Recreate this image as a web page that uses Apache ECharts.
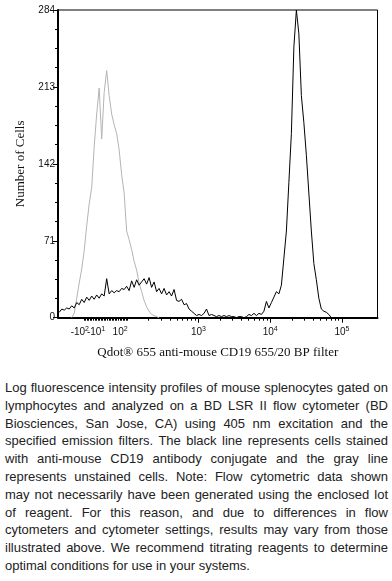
<!DOCTYPE html>
<html>
<head>
<meta charset="utf-8">
<script src="https://cdn.jsdelivr.net/npm/echarts@6/dist/echarts.min.js"></script>
<style>
  html, body { margin: 0; padding: 0; background: #fff; }
  #chart { position: absolute; left: 0; top: 0; width: 392px; height: 372px; }
  #caption { position: absolute; left: 5px; top: 379px; width: 383px;
    font-family: "Liberation Sans", Arial, sans-serif; font-size: 13px; line-height: 17.8px; color: #222; }
  #caption div { text-align: justify; text-align-last: justify; white-space: nowrap; overflow: visible; }
  #caption div.last { text-align-last: left; }
</style>
</head>
<body>
<div id="chart"></div>
<div id="caption"></div>
<script>
// ---- data (channel scale 0..1024, 128 bins of 8 channels) ----
const binWidth = 8;
const stainedCounts = [
  5, 8, 7, 9, 8, 11, 9, 14, 12, 17,
  14, 19, 16, 20, 17, 21, 18, 22, 20, 36,
  22, 25, 23, 25, 24, 27, 26, 29, 25, 34,
  28, 35, 30, 33, 36, 31, 37, 28, 33, 24,
  27, 22, 27, 21, 24, 20, 26, 16, 15, 17,
  12, 13, 8, 6, 4, 2, 3, 2, 4, 8,
  2, 3, 2, 1, 2, 1, 2, 1, 2, 1,
  1, 0, 1, 1, 0, 1, 3, 2, 4, 2,
  4, 3, 6, 15, 9, 14, 19, 24, 22, 30,
  55, 80, 125, 170, 250, 284, 262, 205, 180, 150,
  115, 80, 50, 35, 18, 8, 6, 5, 3, 0,
  0
];
const unstainedStartBin = 5;
const unstainedCounts = [
  0, 4, 18, 32, 45, 62, 85, 105, 120, 158,
  188, 212, 165, 208, 228, 205, 188, 178, 170, 155,
  132, 115, 80, 72, 63, 52, 44, 32, 24, 16,
  10, 6, 3, 2, 1, 0
];
const yTicks = [0, 71, 142, 213, 284];
// tick labels: three groups so the tightly packed ones near zero all stay visible
const xLabelGroups = [
  { pos: [199, 450, 680, 910], base: ['10', '10', '10', '10'], exp: ['2', '3', '4', '5'] },
  { pos: [70], base: ['-10'], exp: ['2'] },
  { pos: [122], base: ['-10'], exp: ['1'] }
];
const xMajorTicks = [450, 680, 910];
const decadeStarts = [220, 450, 680];   // 10^2, 10^3, 10^4 in channels
const decadeWidth = 230;
const linearTickRange = [83, 225];
const xTitle = 'Qdot\u00AE 655 anti-mouse CD19 655/20 BP filter';
const yTitle = 'Number of Cells';
const captionLines = [
  'Log fluorescence intensity profiles of mouse splenocytes gated on',
  'lymphocytes and analyzed on a BD LSR II flow cytometer (BD',
  'Biosciences, San Jose, CA) using 405 nm excitation and the',
  'specified emission filters. The black line represents cells stained',
  'with anti-mouse CD19 antibody conjugate and the gray line',
  'represents unstained cells. Note: Flow cytometric data shown',
  'may not necessarily have been generated using the enclosed lot',
  'of reagent. For this reason, and due to differences in flow',
  'cytometers and cytometer settings, results may vary from those',
  'illustrated above. We recommend titrating reagents to determine',
  'optimal conditions for use in your systems.'
];

// ---- build ----
const stained = stainedCounts.map((c, i) => [i * binWidth + binWidth / 2, c]);
const unstained = unstainedCounts.map((c, i) => [(i + unstainedStartBin) * binWidth + binWidth / 2, c]);

const minorTicks = [];
for (let v = linearTickRange[0]; v <= linearTickRange[1]; v += 5) minorTicks.push(v);
decadeStarts.forEach(s => {
  for (let k = 2; k <= 9; k++) minorTicks.push(s + Math.log10(k) * decadeWidth);
});

const cap = document.getElementById('caption');
captionLines.forEach((t, i) => {
  const d = document.createElement('div');
  d.textContent = t;
  if (i === captionLines.length - 1) d.className = 'last';
  cap.appendChild(d);
});

const chart = echarts.init(document.getElementById('chart'), null, { renderer: 'canvas' });
const sansFont = '"Liberation Sans", Arial, sans-serif';
const serifFont = '"Liberation Serif", "Times New Roman", serif';
const richStyle = {
  n: { fontFamily: sansFont, fontSize: 10, color: '#111', lineHeight: 14 },
  s: { fontFamily: sansFont, fontSize: 7, color: '#111', lineHeight: 7, padding: [0, 0, 7, 0] }
};
function labelAxis(g, extra) {
  return Object.assign({
    type: 'value', min: 0, max: 1024, position: 'bottom',
    axisLine: { show: false },
    axisTick: { show: false },
    axisLabel: {
      show: true, customValues: g.pos, margin: 8, hideOverlap: false,
      showMinLabel: true, showMaxLabel: true,
      formatter: function (v) {
        let idx = 0, best = 1e9;
        g.pos.forEach((p, i) => { if (Math.abs(p - v) < best) { best = Math.abs(p - v); idx = i; } });
        return '{n|' + g.base[idx] + '}{s|' + g.exp[idx] + '}';
      },
      rich: richStyle
    },
    splitLine: { show: false }
  }, extra || {});
}

const xAxes = [
  labelAxis(xLabelGroups[0], {
    name: xTitle, nameLocation: 'middle', nameGap: 28,
    nameTextStyle: { fontFamily: serifFont, fontSize: 13, color: '#111' },
    axisLine: { show: true, lineStyle: { color: '#000', width: 2 } },
    axisTick: { show: true, customValues: xMajorTicks, length: 5, lineStyle: { color: '#000' } }
  }),
  labelAxis(xLabelGroups[1], {
    axisTick: { show: true, customValues: minorTicks, length: 3, lineStyle: { color: '#000' } }
  }),
  labelAxis(xLabelGroups[2])
];

chart.setOption({
  animation: false,
  backgroundColor: '#fff',
  grid: {
    left: 58, top: 10, width: 319.5, height: 307.7,
    show: true, borderColor: '#000', borderWidth: 1, backgroundColor: '#fff',
    containLabel: false, outerBoundsMode: 'none'
  },
  xAxis: xAxes,
  yAxis: {
    type: 'value', min: 0, max: 284, interval: 71,
    name: yTitle, nameLocation: 'middle', nameGap: 26, nameRotate: 90,
    nameTextStyle: { fontFamily: serifFont, fontSize: 13, color: '#111' },
    axisLine: { show: true, lineStyle: { color: '#000', width: 2 } },
    axisTick: { show: true, length: 5, lineStyle: { color: '#000' } },
    minorTick: { show: true, splitNumber: 4, length: 3, lineStyle: { color: '#000' } },
    axisLabel: { fontFamily: sansFont, fontSize: 10, color: '#111', margin: 3 },
    splitLine: { show: false }
  },
  series: [{
    type: 'line', data: unstained, symbol: 'none', xAxisIndex: 0,
    lineStyle: { color: '#b4b4b4', width: 1 }, z: 2
  }, {
    type: 'line', data: stained, symbol: 'none', xAxisIndex: 0,
    lineStyle: { color: '#000', width: 1 }, z: 3
  }]
});
</script>
</body>
</html>
